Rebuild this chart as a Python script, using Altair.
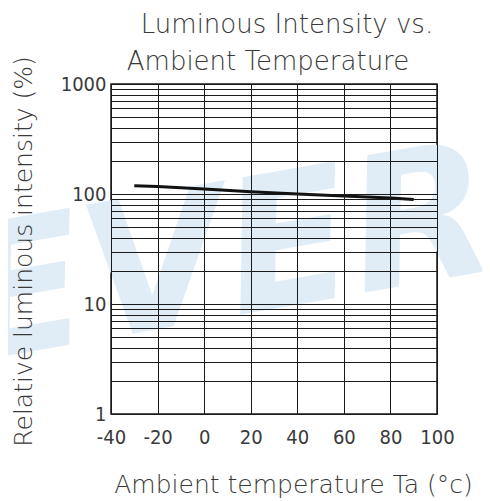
import altair as alt
import pandas as pd

# Data
temps = [-30, -20, 0, 20, 40, 60, 80, 90]
intensity = [119, 117, 111, 105, 100, 96, 92, 89]

x_ticks = [-40, -20, 0, 20, 40, 60, 80, 100]
y_labels = [1, 10, 100, 1000]
y_grid = [m * 10 ** e for e in range(3) for m in range(1, 10)] + [1000]

title_lines = ["Luminous Intensity vs.", "Ambient Temperature"]

df = pd.DataFrame({"t": temps, "iv": intensity})
wm = pd.DataFrame({"txt": ["EVERLIGHT"]})

FONT_T = "DejaVu Sans"
FONT_L = "DejaVu Sans Condensed, Liberation Sans Narrow, Liberation Sans"
TXT_COL = "#3a3a3a"

x_enc = alt.X(
    "t:Q",
    scale=alt.Scale(domain=[-40, 100], nice=False, zero=False),
    axis=alt.Axis(
        values=x_ticks, ticks=False, domain=False,
        labelExpr="'' + datum.value",
        grid=True, gridColor="#1a1a1a", gridWidth=1, gridOpacity=1,
        labelFont=FONT_L, labelFontSize=20, labelColor=TXT_COL,
        labelPadding=13, labelFlush=False,
        title="Ambient temperature Ta (°c)", titleFont=FONT_T,
        titleFontSize=25, titleFontWeight=200, titleColor=TXT_COL,
        titleX=182, titleY=78, titleBaseline="alphabetic", zindex=1,
    ),
)
y_enc = alt.Y(
    "iv:Q",
    scale=alt.Scale(type="log", domain=[1, 1000], nice=False),
    axis=alt.Axis(
        values=y_grid, ticks=False, domain=False,
        labelExpr="indexof([1,10,100,1000], datum.value) >= 0 ? '' + datum.value : ''",
        grid=True, gridColor="#1a1a1a", gridWidth=1, gridOpacity=1,
        labelFont=FONT_L, labelFontSize=20, labelColor=TXT_COL,
        labelPadding=5, labelFlush=False, labelBaseline="middle",
        title="Relative luminous intensity (%)", titleFont=FONT_T,
        titleFontSize=25, titleFontWeight=200, titleColor=TXT_COL,
        titleAngle=-90, titleX=-88, titleY=167, titleBaseline="middle",
        titleAlign="center", zindex=1,
    ),
)

watermark = alt.Chart(wm).mark_text(
    font="DejaVu Sans", fontSize=185, fontWeight="bold", fontStyle="italic",
    color="#e0edf7", angle=350, align="left", baseline="alphabetic",
).encode(
    text="txt:N", x=alt.value(-140), y=alt.value(278),
)

t1 = alt.Chart(pd.DataFrame({"s": [title_lines[0]]})).mark_text(
    font=FONT_T, fontSize=26, fontWeight=200, color=TXT_COL,
    align="center", baseline="alphabetic",
).encode(text="s:N", x=alt.value(176), y=alt.value(-51))

t2 = alt.Chart(pd.DataFrame({"s": [title_lines[1]]})).mark_text(
    font=FONT_T, fontSize=26, fontWeight=200, color=TXT_COL,
    align="center", baseline="alphabetic",
).encode(text="s:N", x=alt.value(157), y=alt.value(-14))

line = alt.Chart(df).mark_line(color="#111", strokeWidth=3).encode(x=x_enc, y=y_enc)

chart = alt.layer(watermark, line, t1, t2).properties(
    width=326, height=330,
    padding={"left": 103, "top": 76, "right": 45, "bottom": 86},
    autosize=alt.AutoSizeParams(type="none"),
).configure_view(stroke="#1a1a1a", strokeWidth=1.5)

chart.save("out.html", embed_options={"renderer": "svg", "actions": False})
